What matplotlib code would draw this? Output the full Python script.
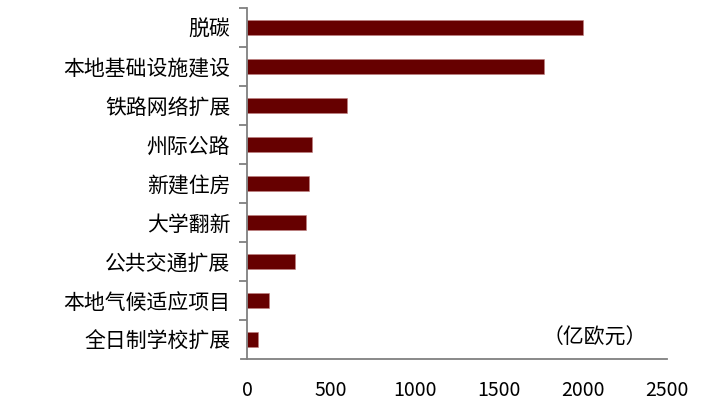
import matplotlib.pyplot as plt
from matplotlib.lines import Line2D

plt.rcParams['font.family'] = ['Noto Sans CJK SC', 'DejaVu Sans']

# data (top to bottom)
categories = ["脱碳", "本地基础设施建设", "铁路网络扩展", "州际公路", "新建住房",
              "大学翻新", "公共交通扩展", "本地气候适应项目", "全日制学校扩展"]
values = [2000, 1770, 593, 385, 367, 349, 284, 131, 67]
xticks = [0, 500, 1000, 1500, 2000, 2500]

W, H = 719, 418
fig = plt.figure(figsize=(W / 100, H / 100), dpi=100)
ax = fig.add_axes([247 / W, (H - 359) / H, (667 - 247) / W, (359 - 8) / H])

pos = list(range(len(categories)))
ax.barh(pos, values, height=0.39, color="#660000", edgecolor="#c08080", linewidth=0.4)

ax.set_xlim(0, 2500)
ax.set_ylim(len(categories) - 0.5, -0.5)
ax.set_xticks(xticks)
ax.set_xticklabels([str(t) for t in xticks], fontsize=14)
ax.tick_params(axis="x", length=0, pad=15)

ax.set_yticks(pos)
ax.set_yticklabels(categories, fontsize=15)
ax.tick_params(axis="y", which="major", length=0, pad=12)
ax.set_yticks([p - 0.5 for p in pos], minor=True)
ax.tick_params(axis="y", which="minor", length=6, width=1.3, color="#808080")

for s in ["top", "right"]:
    ax.spines[s].set_visible(False)
ax.spines["left"].set_color("#808080")
ax.spines["left"].set_linewidth(1.3)
ax.spines["bottom"].set_visible(False)

# x-axis line slightly extends past the y-axis
fig.add_artist(Line2D([241 / W, 667 / W], [(H - 359) / H] * 2,
                      color="#808080", linewidth=1.3))

ax.text(1760, 7.95, "（亿欧元）", fontsize=15, ha="left", va="center")

fig.savefig("out.png", dpi=100)
